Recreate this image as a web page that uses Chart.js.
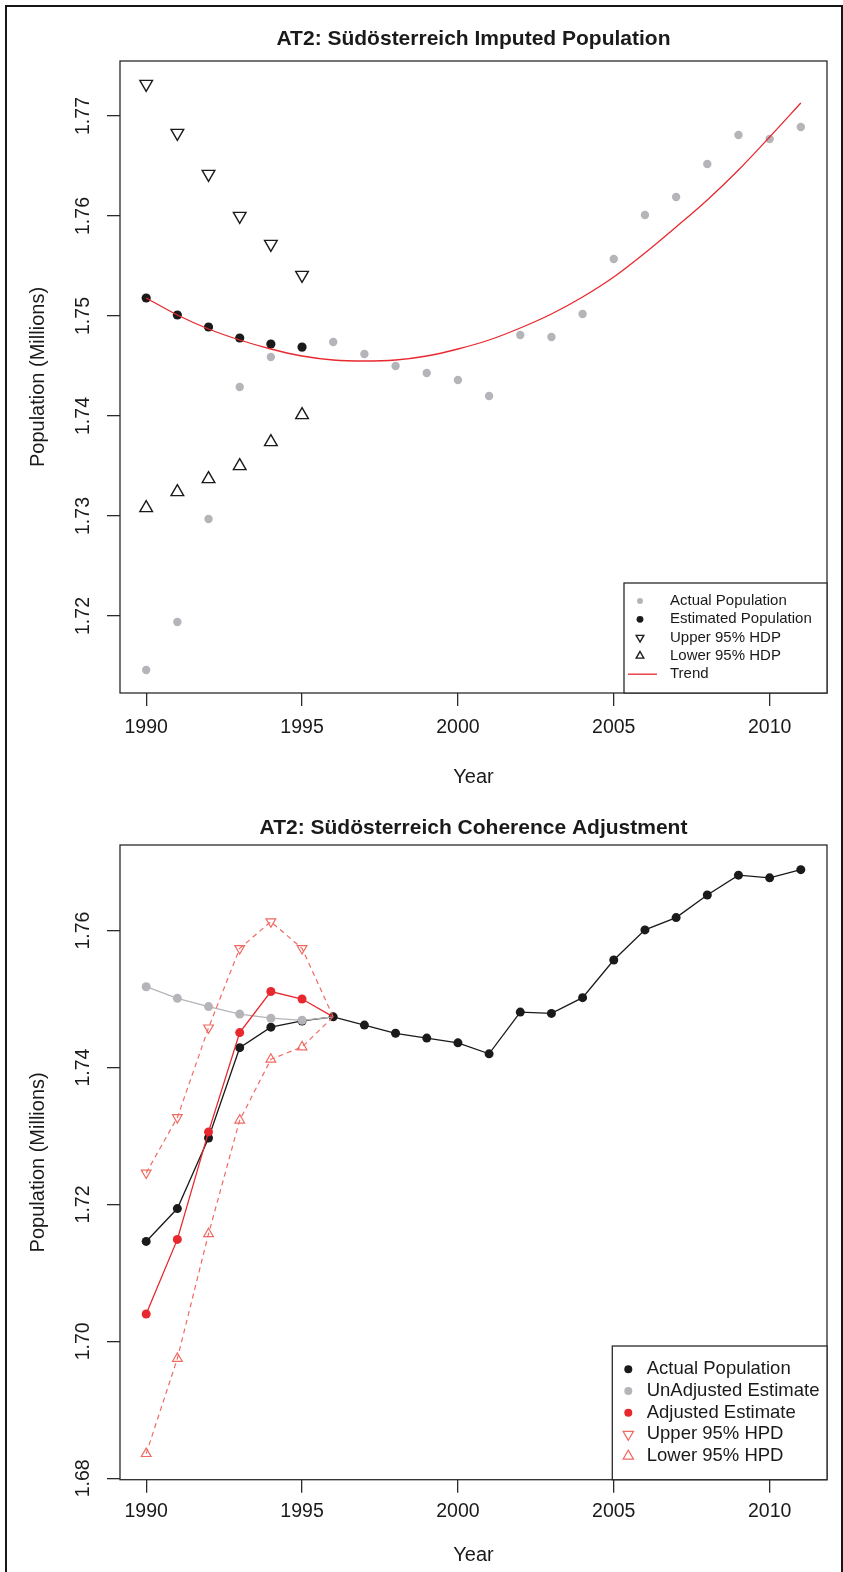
<!DOCTYPE html>
<html>
<head>
<meta charset="utf-8">
<title>AT2: Südösterreich</title>
<script src="https://cdn.jsdelivr.net/npm/chart.js@4.4.1/dist/chart.umd.min.js"></script>
<style>
  html, body { margin: 0; padding: 0; background: #fff; }
  #page { position: relative; width: 843px; height: 1572px; overflow: hidden; }
  #frame {
    position: absolute; left: 5px; top: 5px; width: 838px; height: 1600px;
    box-sizing: border-box; border: 2.5px solid #161616;
  }
  canvas { position: absolute; left: 0; }
  #top { top: 0; }
  #bottom { top: 790px; }
</style>
</head>
<body>
<div id="page">
  <div id="frame"></div>
  <canvas id="top" width="843" height="790"></canvas>
  <canvas id="bottom" width="843" height="782"></canvas>
</div>
<script>
// Values (population in millions).
var YEARS = [1990, 1991, 1992, 1993, 1994, 1995, 1996, 1997, 1998, 1999, 2000,
             2001, 2002, 2003, 2004, 2005, 2006, 2007, 2008, 2009, 2010, 2011];
var ACTUAL_POP = [1.7146, 1.7194, 1.7297, 1.7429, 1.7459, 1.7468, 1.7474, 1.7462,
                  1.7450, 1.7443, 1.7436, 1.7420, 1.7481, 1.7479, 1.7502, 1.7557,
                  1.7601, 1.7619, 1.7652, 1.7681, 1.7677, 1.7689];
// 1990-1995 only
var ESTIMATED = [1.7518, 1.7501, 1.7489, 1.7478, 1.7472, 1.7469];
var HDP_UPPER = [1.7732, 1.7683, 1.7642, 1.7600, 1.7572, 1.7541];
var HDP_LOWER = [1.7308, 1.7324, 1.7337, 1.7350, 1.7374, 1.7401];
var TREND = [1.7518, 1.7501, 1.7487, 1.7476, 1.7467, 1.7460, 1.7456, 1.7455,
             1.7456, 1.7460, 1.7467, 1.7476, 1.7488, 1.7502, 1.7519, 1.7539,
             1.7563, 1.7589, 1.7616, 1.7646, 1.7679, 1.7713];
// coherence adjustment, 1990-1995
var ADJUSTED = [1.7040, 1.7149, 1.7306, 1.7451, 1.7511, 1.7500];
var HPD_UPPER = [1.7246, 1.7327, 1.7458, 1.7574, 1.7613, 1.7574];
var HPD_LOWER = [1.6836, 1.6975, 1.7157, 1.7323, 1.7412, 1.7430];

var X_TICKS = [1990, 1995, 2000, 2005, 2010];
var Y_TICKS_TOP = [1.72, 1.73, 1.74, 1.75, 1.76, 1.77];
var Y_TICKS_BOTTOM = [1.68, 1.70, 1.72, 1.74, 1.76];

var FONT = "'Liberation Sans', Arial, Helvetica, sans-serif";
var INK = '#1a1a1a';
var GREY = '#b5b5b9';
var RED = '#e8282f';
var SALMON = '#f06a62';

Chart.defaults.font.family = FONT;
Chart.defaults.color = INK;

function pts(years, values) {
  return values.map(function (v, i) { return { x: years[i], y: v }; });
}

// the 1995 estimates are joined to the 1996 actual value, drawn without a marker there
var JOIN_YEARS = YEARS.slice(0, 7);
function joined(values) { return values.concat([ACTUAL_POP[6]]); }
function joinRadius(r) {
  return function (ctx) { return ctx.dataIndex === 6 ? 0 : r; };
}

// R-style box around the plotting region
var plotBox = {
  id: 'plotBox',
  afterDatasetsDraw: function (chart) {
    var a = chart.chartArea, ctx = chart.ctx;
    ctx.save();
    ctx.strokeStyle = '#2a2a2a';
    ctx.lineWidth = 1.3;
    ctx.strokeRect(a.left, a.top, a.right - a.left, a.bottom - a.top);
    ctx.restore();
  }
};

function drawMarker(ctx, style, rotation, r, x, y) {
  ctx.beginPath();
  if (style === 'triangle') {
    var a = (rotation || 0) * Math.PI / 180;
    for (var k = 0; k < 3; k++) {
      var ang = a + k * 2 * Math.PI / 3;
      ctx.lineTo(x + Math.sin(ang) * r, y - Math.cos(ang) * r);
    }
    ctx.closePath();
  } else {
    ctx.arc(x, y, r, 0, Math.PI * 2);
  }
}

// legend box sitting in the bottom-right corner of the plot, like legend("bottomright")
var boxLegend = {
  id: 'boxLegend',
  afterDraw: function (chart, args, o) {
    if (!o.items) return;
    var a = chart.chartArea, ctx = chart.ctx;
    var left = a.right - o.width, top = a.bottom - o.height;
    ctx.save();
    ctx.fillStyle = '#fff';
    ctx.fillRect(left, top, o.width, o.height);
    ctx.strokeStyle = '#2a2a2a';
    ctx.lineWidth = 1.3;
    ctx.strokeRect(left, top, o.width, o.height);
    ctx.font = o.fontSize + 'px ' + FONT;
    ctx.textBaseline = 'middle';
    o.items.forEach(function (item, i) {
      var ds = chart.data.datasets[i];
      var y = top + o.firstRow + i * o.rowGap;
      var mx = left + o.markerX;
      if (item.mark === 'line') {
        ctx.strokeStyle = ds.borderColor;
        ctx.lineWidth = ds.borderWidth;
        ctx.beginPath();
        ctx.moveTo(left + o.lineFrom, y);
        ctx.lineTo(left + o.lineTo, y);
        ctx.stroke();
      } else {
        drawMarker(ctx, ds.pointStyle, ds.pointRotation, item.r, mx, y);
        if (ds.pointStyle === 'triangle') {
          ctx.strokeStyle = ds.pointBorderColor;
          ctx.lineWidth = ds.pointBorderWidth;
          ctx.stroke();
        } else {
          ctx.fillStyle = ds.pointBackgroundColor;
          ctx.fill();
        }
      }
      ctx.fillStyle = INK;
      ctx.fillText(ds.label, left + o.textX, y);
    });
    ctx.restore();
  }
};

function xScale(opts) {
  return {
    type: 'linear',
    min: 1989.16,
    max: 2011.84,
    afterBuildTicks: function (scale) {
      scale.ticks = X_TICKS.map(function (v) { return { value: v }; });
    },
    afterFit: function (scale) { scale.height = opts.xHeight; },
    grid: { drawOnChartArea: false, drawTicks: true, tickLength: 13, color: '#2a2a2a', lineWidth: 1.3 },
    border: { display: false },
    ticks: {
      autoSkip: false, maxRotation: 0, padding: opts.xTickPad,
      font: { size: 19.5 }, color: INK,
      callback: function (v) { return String(v); }
    },
    title: {
      display: true, text: 'Year', color: INK,
      font: { size: 20 }, padding: { top: 0, bottom: opts.xTitlePad }
    }
  };
}

function yScale(opts) {
  return {
    type: 'linear',
    min: opts.yMin,
    max: opts.yMax,
    afterBuildTicks: function (scale) {
      scale.ticks = opts.yTicks.map(function (v) { return { value: v }; });
    },
    afterFit: function (scale) { scale.width = 120; },
    grid: { drawOnChartArea: false, drawTicks: true, tickLength: 13, color: '#2a2a2a', lineWidth: 1.3 },
    border: { display: false },
    ticks: {
      autoSkip: false, minRotation: 90, maxRotation: 90, crossAlign: 'center',
      padding: 4, font: { size: 19.5 }, color: INK,
      callback: function (v) { return v.toFixed(2); }
    },
    title: {
      display: true, text: 'Population (Millions)', color: INK,
      font: { size: 20 }, padding: { top: 26, bottom: 0 }
    }
  };
}

function renderPanel(canvasId, datasets, opts) {
  return new Chart(document.getElementById(canvasId), {
    type: 'line',
    data: { datasets: datasets },
    options: {
      responsive: false,
      animation: false,
      events: [],
      layout: { padding: { left: 0, right: 16, top: 0, bottom: 0 } },
      scales: { x: xScale(opts), y: yScale(opts) },
      plugins: {
        legend: { display: false },
        tooltip: { enabled: false },
        title: {
          display: true, text: opts.title, fullSize: false, color: INK,
          font: { size: 21, weight: 'bold' },
          padding: { top: opts.titlePadTop, bottom: opts.titlePadBottom }
        },
        boxLegend: opts.legend
      }
    },
    plugins: [plotBox, boxLegend]
  });
}

// ---- top panel: imputed population ----
renderPanel('top', [
  {
    label: 'Actual Population', data: pts(YEARS, ACTUAL_POP), showLine: false, order: 5,
    pointStyle: 'circle', pointRadius: 4.2, pointBackgroundColor: GREY, pointBorderWidth: 0
  },
  {
    label: 'Estimated Population', data: pts(YEARS, ESTIMATED), showLine: false, order: 4,
    pointStyle: 'circle', pointRadius: 4.6, pointBackgroundColor: INK, pointBorderWidth: 0
  },
  {
    label: 'Upper 95% HDP', data: pts(YEARS, HDP_UPPER), showLine: false, order: 3,
    pointStyle: 'triangle', pointRotation: 180, pointRadius: 7.3,
    pointBackgroundColor: 'rgba(0,0,0,0)', pointBorderColor: INK, pointBorderWidth: 1.4
  },
  {
    label: 'Lower 95% HDP', data: pts(YEARS, HDP_LOWER), showLine: false, order: 2,
    pointStyle: 'triangle', pointRotation: 0, pointRadius: 7.3,
    pointBackgroundColor: 'rgba(0,0,0,0)', pointBorderColor: INK, pointBorderWidth: 1.4
  },
  {
    label: 'Trend', data: pts(YEARS, TREND), order: 1,
    borderColor: RED, borderWidth: 1.3, cubicInterpolationMode: 'monotone',
    pointRadius: 0, fill: false
  }
], {
  title: 'AT2: Südösterreich Imputed Population',
  titlePadTop: 26.4, titlePadBottom: 9.4,
  yMin: 1.7123, yMax: 1.7755, yTicks: Y_TICKS_TOP,
  xHeight: 97, xTickPad: 9.8, xTitlePad: 1,
  legend: {
    width: 203, height: 110, fontSize: 15,
    firstRow: 18, rowGap: 18.3, markerX: 16, textX: 46, lineFrom: 4, lineTo: 33,
    items: [{ mark: 'point', r: 3 }, { mark: 'point', r: 3.4 }, { mark: 'point', r: 4.4 },
            { mark: 'point', r: 4.4 }, { mark: 'line' }]
  }
});

// ---- bottom panel: coherence adjustment ----
renderPanel('bottom', [
  {
    label: 'Actual Population', data: pts(YEARS, ACTUAL_POP), order: 5,
    borderColor: INK, borderWidth: 1.3, tension: 0,
    pointStyle: 'circle', pointRadius: 4.5, pointBackgroundColor: INK, pointBorderWidth: 0
  },
  {
    label: 'UnAdjusted Estimate', data: pts(JOIN_YEARS, joined(ESTIMATED)), order: 4,
    borderColor: GREY, borderWidth: 1.3, tension: 0,
    pointStyle: 'circle', pointRadius: joinRadius(4.5), pointBackgroundColor: GREY, pointBorderWidth: 0
  },
  {
    label: 'Adjusted Estimate', data: pts(JOIN_YEARS, joined(ADJUSTED)), order: 3,
    borderColor: RED, borderWidth: 1.3, tension: 0,
    pointStyle: 'circle', pointRadius: joinRadius(4.5), pointBackgroundColor: RED, pointBorderWidth: 0
  },
  {
    label: 'Upper 95% HPD', data: pts(JOIN_YEARS, joined(HPD_UPPER)), order: 2,
    borderColor: SALMON, borderWidth: 1.2, borderDash: [5, 4], tension: 0,
    pointStyle: 'triangle', pointRotation: 180, pointRadius: joinRadius(5.6),
    pointBackgroundColor: 'rgba(0,0,0,0)', pointBorderColor: SALMON, pointBorderWidth: 1.2
  },
  {
    label: 'Lower 95% HPD', data: pts(JOIN_YEARS, joined(HPD_LOWER)), order: 1,
    borderColor: SALMON, borderWidth: 1.2, borderDash: [5, 4], tension: 0,
    pointStyle: 'triangle', pointRotation: 0, pointRadius: joinRadius(5.6),
    pointBackgroundColor: 'rgba(0,0,0,0)', pointBorderColor: SALMON, pointBorderWidth: 1.2
  }
], {
  title: 'AT2: Südösterreich Coherence Adjustment',
  titlePadTop: 25.4, titlePadBottom: 4.4,
  yMin: 1.6798, yMax: 1.7725, yTicks: Y_TICKS_BOTTOM,
  xHeight: 92.3, xTickPad: 7, xTitlePad: 5,
  legend: {
    width: 214.7, height: 133.7, fontSize: 18.5,
    firstRow: 23.3, rowGap: 21.7, markerX: 16, textX: 34.4,
    items: [{ mark: 'point', r: 4 }, { mark: 'point', r: 4 }, { mark: 'point', r: 4 },
            { mark: 'point', r: 6 }, { mark: 'point', r: 6 }]
  }
});
</script>
</body>
</html>
